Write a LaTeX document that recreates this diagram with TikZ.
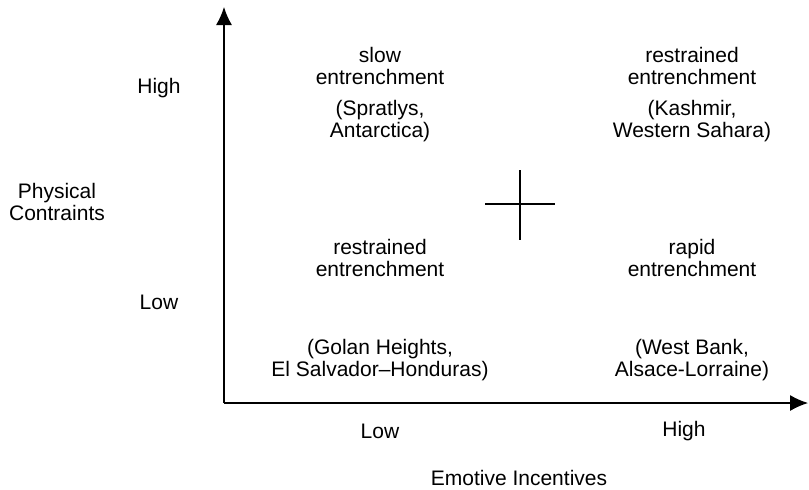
\documentclass[tikz,border=0pt]{standalone}
\usepackage{fontspec}
\setmainfont{Liberation Sans}
\usetikzlibrary{arrows.meta}

\tikzset{
	cell/.style = {align=center, inner sep=0pt, font=\fontsize{10.5}{11.2}\selectfont},
	axis/.style = {line width=0.6pt, -{Latex[length=9pt,width=8pt]}}
}

\begin{document}
\begin{tikzpicture}[x=0.5pt, y=-0.5pt]

	\useasboundingbox (0,0) rectangle (809,489);

	% axes
	\coordinate (origin) at (224,403);
	\coordinate (yTop) at (224,7);
	\coordinate (xEnd) at (808,403);
	\draw [axis] (origin) -- (yTop);
	\draw [axis] (origin) -- (xEnd);

	% cross in the middle
	\coordinate (crossW) at (485,204);
	\coordinate (crossE) at (555,204);
	\coordinate (crossN) at (520,170);
	\coordinate (crossS) at (520,240);
	\draw [line width=0.6pt] (crossW) -- (crossE);
	\draw [line width=0.6pt] (crossN) -- (crossS);

	% quadrants
	\def \colLow {380};
	\def \colHigh {692};
	\node [cell] (slowLabel) at (\colLow,66) {slow\\entrenchment};
	\node [cell] (slowCases) at (\colLow,121) {(Spratlys,\\Antarctica)};
	\node [cell] (restrTopLabel) at (\colHigh,66) {restrained\\entrenchment};
	\node [cell] (restrTopCases) at (\colHigh,121) {(Kashmir,\\Western Sahara)};
	\node [cell] (restrLowLabel) at (\colLow,258) {restrained\\entrenchment};
	\node [cell] (restrLowCases) at (\colLow,360) {(Golan Heights,\\El Salvador--Honduras)};
	\node [cell] (rapidLabel) at (\colHigh,258) {rapid\\entrenchment};
	\node [cell] (rapidCases) at (\colHigh,360) {(West Bank,\\Alsace-Lorraine)};

	% vertical axis labels
	\node [cell] (yHigh) at (159,88) {High};
	\node [cell] (yLow) at (159,302) {Low};
	\node [cell] (yTitle) at (57,202) {Physical\\Contraints};

	% horizontal axis labels
	\node [cell] (xLow) at (\colLow,431) {Low};
	\node [cell] (xHigh) at (684,431) {High};
	\node [cell] (xTitle) at (519,478) {Emotive Incentives};

\end{tikzpicture}
\end{document}
